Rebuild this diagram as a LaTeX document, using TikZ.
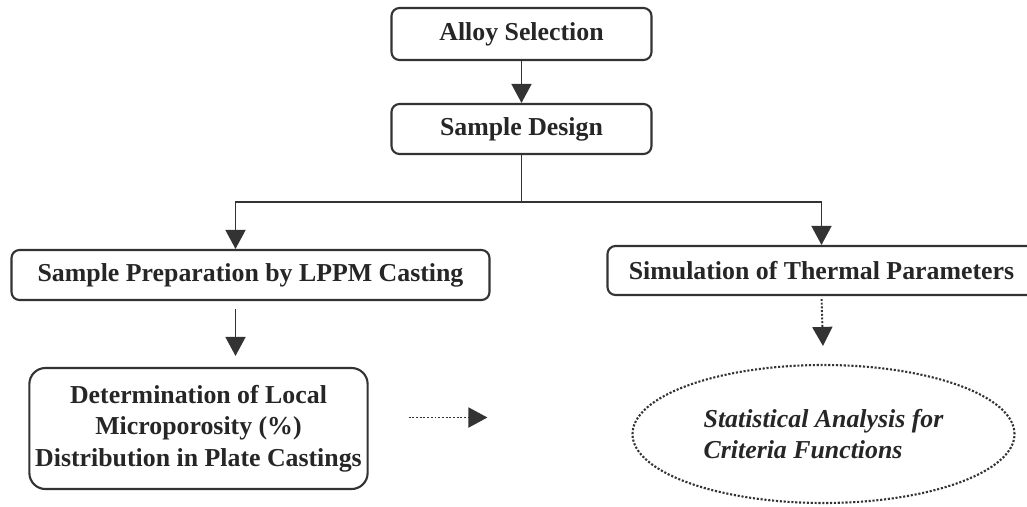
\documentclass[tikz,border=0pt]{standalone}
\usepackage{fontspec}
\setmainfont{Liberation Serif}
\usepackage{tikz}
\usetikzlibrary{arrows.meta, shapes.geometric, positioning}

\begin{document}
\begin{tikzpicture}[>={Triangle[width=0.4cm,length=0.38cm]}, on grid,
    line width=0.9pt, draw=black!80,
    every node/.style={text=black!85, font=\fontsize{14.7}{18}\selectfont\bfseries},
    stepbox/.style={draw, rounded corners=0.16cm, line width=1.2pt, minimum height=1.0cm},
    bigbox/.style={draw, rounded corners=0.32cm, line width=1.2pt, align=center,
        minimum width=6.64cm, minimum height=2.42cm},
    result/.style={ellipse, draw, densely dotted, line width=1.2pt, inner sep=0pt,
        align=left, minimum width=7.64cm, minimum height=2.76cm,
        font=\fontsize{14.7}{18}\selectfont\bfseries\itshape}]
    \useasboundingbox (0,0) rectangle (20.54,-10.12);
    \node[stepbox, minimum width=5.2cm, minimum height=1.04cm] (alloy) at (10.43,-0.68) {Alloy Selection};
    \node[stepbox, minimum width=5.2cm] (design) [below=1.9cm of alloy] {Sample Design};
    \node[stepbox, minimum width=9.56cm] (prep) [below left=2.92cm and 5.42cm of design] {Sample Preparation by LPPM Casting};
    \node[stepbox, minimum width=8.56cm, minimum height=0.98cm] (sim) [above right=0.09cm and 11.42cm of prep] {Simulation of Thermal Parameters};
    \node[bigbox] (det) [below left=3.07cm and 1.04cm of prep] {Determination of Local\\ Microporosity (\%)\\ Distribution in Plate Castings};
    \node[result] (stat) [below right=3.27cm and 0.04cm of sim] {Statistical Analysis for\\ Criteria Functions};

    \coordinate (fork) at ([yshift=-0.94cm]design.south);
    \coordinate (prepout) at ([xshift=-0.3cm]prep.south);
    \coordinate (detin) at ([yshift=0.22cm]det.east);
    \draw[->] (alloy) -- (design);
    \draw (design.south) -- (fork);
    \draw[->] (fork) -| ([xshift=-0.3cm]prep.north);
    \draw[->] (fork) -| (sim.north);
    \draw[->, shorten <=0.16cm, shorten >=0.22cm] (prepout) -- (prepout |- det.north);
    \draw[->, densely dotted, line width=1.1pt, shorten <=0.06cm, shorten >=0.36cm] (sim.south) -- (stat.north);
    \draw[->, densely dotted, line width=1.1pt, shorten <=0.8cm, shorten >=2.88cm] (detin) -- (detin -| stat.west);
\end{tikzpicture}
\end{document}
